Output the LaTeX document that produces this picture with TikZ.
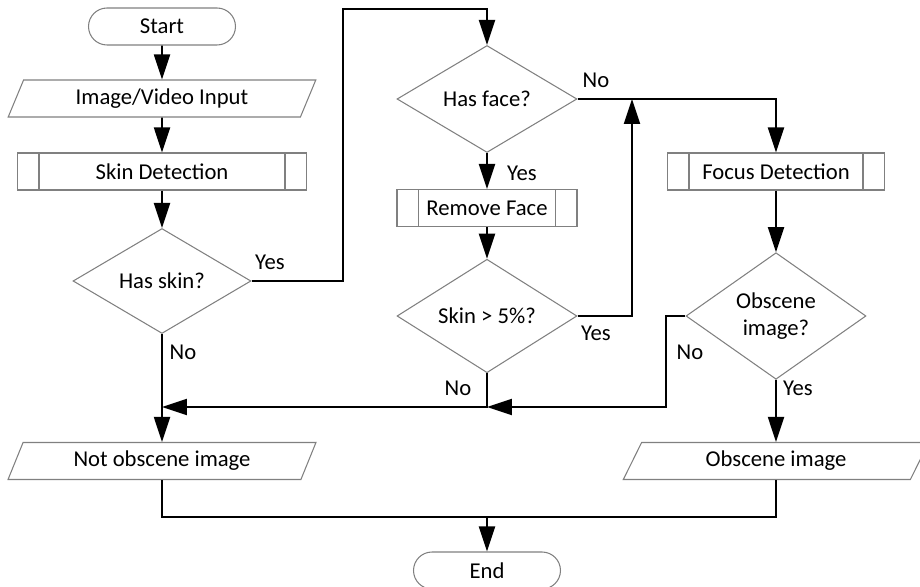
\documentclass[tikz,border=0pt]{standalone}
\usepackage{fontspec}
\setmainfont{Carlito}
\usetikzlibrary{shapes.geometric,shapes.misc,arrows.meta}

\begin{document}
\begin{tikzpicture}[x=0.02cm,y=-0.02cm,
  font=\fontsize{12.9}{15.5}\selectfont,
  term/.style={draw=gray,line width=0.6pt,rounded rectangle,minimum width=2.94cm,minimum height=0.74cm,inner sep=0pt},
  io/.style={draw=gray,line width=0.6pt,trapezium,trapezium left angle=64,trapezium right angle=116,trapezium stretches=true,minimum width=6.16cm,minimum height=0.74cm,inner sep=0pt},
  proc/.style={draw=gray,line width=0.6pt,rectangle,minimum height=0.74cm,inner sep=0pt,
    path picture={\draw[gray,line width=0.6pt]
      ([xshift=0.43cm]path picture bounding box.north west) -- ([xshift=0.43cm]path picture bounding box.south west)
      ([xshift=-0.43cm]path picture bounding box.north east) -- ([xshift=-0.43cm]path picture bounding box.south east);}},
  dec/.style={draw=gray,line width=0.6pt,diamond,minimum width=3.6cm,minimum height=2.14cm,inner sep=0pt,align=center},
  con/.style={line width=1.1pt},
  arr/.style={con,-{Triangle[length=0.5cm,width=0.32cm]}}]

\useasboundingbox (0,0) rectangle (920,587);

\node[term] (start) at (162,26.5) {Start};
\node[io] (input) at (162,98.5) {Image/Video Input};
\node[proc,minimum width=5.78cm] (skin) at (162,171.5) {Skin Detection};
\node[dec,minimum width=3.56cm,minimum height=2.1cm] (hasskin) at (162,281) {Has skin?};
\node[io] (notobs) at (162,461) {Not obscene image};

\node[dec] (hasface) at (487,99) {Has face?};
\node[proc,minimum width=3.6cm] (rmface) at (487,208) {Remove Face};
\node[dec] (skinpct) at (487,316) {Skin > 5\%?};
\node[term] (end) at (487,570.5) {End};

\node[proc,minimum width=4.34cm] (focus) at (776,171.5) {Focus Detection};
\node[dec] (obsq) at (776,316) {Obscene\\image?};
\node[io] (obsimg) at (776,461) {Obscene image};

\coordinate (bend) at (343,9);
\coordinate (fj) at (632,99);
\coordinate (nj) at (162,407);
\coordinate (mj) at (487,407);
\coordinate (oj) at (666,316);
\coordinate (ej) at (487,517);

\draw[arr] (start) -- (input);
\draw[arr] (input) -- (skin);
\draw[arr] (skin) -- (hasskin);
\draw[arr] (hasskin.south) -- (notobs.north);
\draw[arr] (hasskin.east) -| (bend) -| (hasface.north);
\draw[arr] (hasface.south) -- (rmface.north);
\draw[arr] (rmface.south) -- (skinpct.north);
\draw[arr] (hasface.east) -| (focus.north);
\draw[arr] (skinpct.east) -| (fj);
\draw[arr] (skinpct.south) |- (nj);
\draw[arr] (focus.south) -- (obsq.north);
\draw[arr] (obsq.west) -- (oj) |- (mj);
\draw[arr] (obsq.south) -- (obsimg.north);
\draw[con] (notobs.south) |- (ej) -| (obsimg.south);
\draw[arr] (ej) -- (end.north);

\node (yskin) at (270,262) {Yes};
\node (nskin) at (183,352) {No};
\node (nface) at (596,80) {No};
\node (yface) at (522,173) {Yes};
\node (ypct) at (596,333) {Yes};
\node (npct) at (458,388) {No};
\node (nobs) at (690,352) {No};
\node (yobs) at (798,388) {Yes};

\end{tikzpicture}
\end{document}
